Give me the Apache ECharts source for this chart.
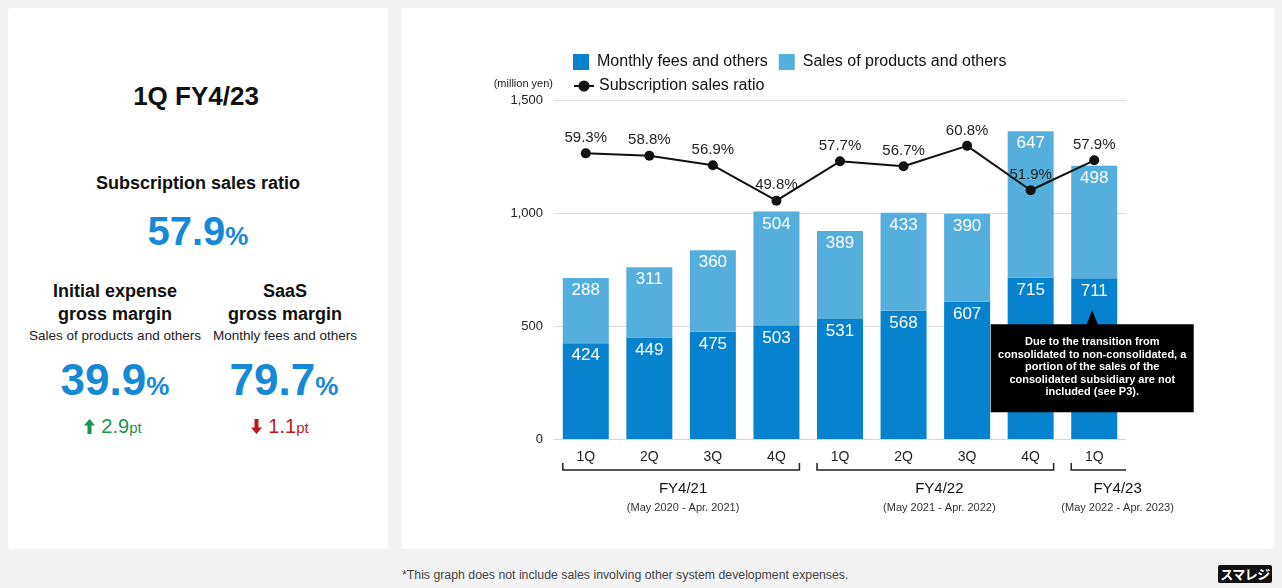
<!DOCTYPE html>
<html>
<head>
<meta charset="utf-8">
<script src="https://cdn.jsdelivr.net/npm/echarts@6/dist/echarts.min.js"></script>
<style>
  html, body { margin: 0; padding: 0; width: 1282px; height: 588px; overflow: hidden;
    background: #f3f3f3; font-family: "Liberation Sans", Arial, sans-serif; color: #111; }
  .panel { position: absolute; background: #fff; border-radius: 3px; }
  .t { position: absolute; width: 300px; text-align: center; white-space: nowrap; }
  .b { font-weight: bold; }
  .blue { color: #1689d6; font-weight: bold; }
  #chart { position: absolute; left: 0; top: 0; width: 1282px; height: 588px; }
  .logo { position: absolute; left: 1218px; top: 565px; width: 54px; height: 18px; background: #111;
    border-radius: 2px; color: #fff; font-family: "Noto Sans CJK JP", sans-serif; font-weight: bold;
    font-size: 13px; line-height: 18px; text-align: center; letter-spacing: -0.5px; }
</style>
</head>
<body>
<div class="panel" style="left:8px;top:8px;width:380px;height:541px"></div>
<div class="panel" style="left:402px;top:8px;width:872px;height:541px"></div>

<!-- summary panel -->
<div class="t b" style="left:46px;top:80px;font-size:26px;line-height:32px">1Q FY4/23</div>
<div class="t b" style="left:48px;top:171px;font-size:18px;line-height:24px">Subscription sales ratio</div>
<div class="t blue" style="left:48px;top:209px;line-height:44px"><span style="font-size:40px">57.9</span><span style="font-size:26px">%</span></div>

<div class="t b" style="left:-35px;top:280px;font-size:18px;line-height:23px">Initial expense<br>gross margin</div>
<div class="t" style="left:-35px;top:328px;font-size:13.5px;line-height:16px;color:#222">Sales of products and others</div>
<div class="t blue" style="left:-35px;top:357px;line-height:46px"><span style="font-size:44px">39.9</span><span style="font-size:26px">%</span></div>
<div class="t" style="left:-37px;top:414px;line-height:24px;color:#179553">
  <svg width="11" height="15" viewBox="0 0 11 15" style="vertical-align:-1px;margin-right:6px"><path d="M5.5 0 L11 6.5 L7.5 6.5 L7.5 15 L3.5 15 L3.5 6.5 L0 6.5 Z" fill="#179553"/></svg><span style="font-size:20px">2.9</span><span style="font-size:15px">pt</span>
</div>

<div class="t b" style="left:135px;top:280px;font-size:18px;line-height:23px">SaaS<br>gross margin</div>
<div class="t" style="left:135px;top:328px;font-size:13.5px;line-height:16px;color:#222">Monthly fees and others</div>
<div class="t blue" style="left:134px;top:357px;line-height:46px"><span style="font-size:44px">79.7</span><span style="font-size:26px">%</span></div>
<div class="t" style="left:130px;top:414px;line-height:24px;color:#c4161c">
  <svg width="11" height="15" viewBox="0 0 11 15" style="vertical-align:-1px;margin-right:6px"><path d="M5.5 15 L11 8.5 L7.5 8.5 L7.5 0 L3.5 0 L3.5 8.5 L0 8.5 Z" fill="#c4161c"/></svg><span style="font-size:20px">1.1</span><span style="font-size:15px">pt</span>
</div>

<div style="position:absolute;left:402px;top:567px;font-size:12.3px;line-height:16px;color:#444;white-space:nowrap">*This graph does not include sales involving other system development expenses.</div>
<div class="logo">スマレジ</div>

<div id="chart"></div>

<script>
// Quarterly sales (million yen) and subscription sales ratio (%)
const quarters = ['1Q', '2Q', '3Q', '4Q', '1Q', '2Q', '3Q', '4Q', '1Q'];
const monthlyFees = [424, 449, 475, 503, 531, 568, 607, 715, 711];
const productSales = [288, 311, 360, 504, 389, 433, 390, 647, 498];
const subscriptionRatio = [59.3, 58.8, 56.9, 49.8, 57.7, 56.7, 60.8, 51.9, 57.9];
const yTicks = [0, 500, 1000, 1500];

// Fiscal year groups under the quarter labels
const fiscalYears = ['FY4/21', 'FY4/22', 'FY4/23'];
const fiscalPeriods = ['(May 2020 - Apr. 2021)', '(May 2021 - Apr. 2022)', '(May 2022 - Apr. 2023)'];
const fiscalFirst = [0, 4, 8];
const fiscalLast = [3, 7, 8];

const noteText = 'Due to the transition from\nconsolidated to non-consolidated, a\nportion of the sales of the\nconsolidated subsidiary are not\nincluded (see P3).';

const FONT = '"Liberation Sans", Arial, sans-serif';
const DARK_BLUE = '#0782cf';
const LIGHT_BLUE = '#55afdc';
const BAR_WIDTH = 46;

const chart = echarts.init(document.getElementById('chart'), null, { renderer: 'canvas' });

const option = {
  animation: false,
  backgroundColor: 'transparent',
  textStyle: { fontFamily: FONT },
  grid: { left: 554, right: 156, top: 100, bottom: 149, containLabel: false },
  legend: [
    {
      data: ['Monthly fees and others', 'Sales of products and others'],
      left: 573, top: 54, padding: 0, icon: 'rect', itemWidth: 16, itemHeight: 16, itemGap: 11,
      textStyle: { fontSize: 16, color: '#111', fontFamily: FONT, padding: [0, 0, 0, 3] }
    },
    {
      data: ['Subscription sales ratio'],
      left: 573, top: 78, padding: 0, itemWidth: 20, itemHeight: 14, itemGap: 10,
      textStyle: { fontSize: 16, color: '#111', fontFamily: FONT }
    }
  ],
  xAxis: {
    type: 'category',
    data: quarters,
    axisLine: { show: true, lineStyle: { color: '#d6d6d6', width: 1 } },
    axisTick: { show: false },
    axisLabel: { fontSize: 14, color: '#222', margin: 11, fontFamily: FONT }
  },
  yAxis: [
    {
      type: 'value',
      min: yTicks[0], max: yTicks[yTicks.length - 1], interval: yTicks[1] - yTicks[0],
      name: '(million yen)',
      nameLocation: 'end',
      nameGap: 11,
      nameTextStyle: { fontSize: 11, color: '#222', align: 'right', fontFamily: FONT, padding: [0, 1, 0, 0] },
      axisLine: { show: false },
      axisTick: { show: false },
      axisLabel: {
        fontSize: 13, color: '#222', margin: 11, fontFamily: FONT,
        formatter: v => v.toLocaleString('en-US')
      },
      splitLine: { lineStyle: { color: '#dcdcdc', width: 1 } }
    },
    { type: 'value', min: 2, max: 70, show: false, splitLine: { show: false } }
  ],
  series: [
    {
      name: 'Monthly fees and others', type: 'bar', stack: 'sales', barWidth: BAR_WIDTH,
      data: monthlyFees,
      itemStyle: { color: DARK_BLUE },
      label: { show: true, position: 'insideTop', distance: 4, color: '#fff', fontSize: 17, fontFamily: FONT }
    },
    {
      name: 'Sales of products and others', type: 'bar', stack: 'sales', barWidth: BAR_WIDTH,
      data: productSales,
      itemStyle: { color: LIGHT_BLUE },
      label: { show: true, position: 'insideTop', distance: 4, color: '#fff', fontSize: 17, fontFamily: FONT }
    },
    {
      name: 'Subscription sales ratio', type: 'line', yAxisIndex: 1,
      data: subscriptionRatio,
      symbol: 'circle', symbolSize: 10,
      lineStyle: { color: '#111', width: 2 },
      itemStyle: { color: '#111' },
      label: { show: true, position: 'top', distance: 3, color: '#222', fontSize: 15, fontFamily: FONT, formatter: p => p.value + '%' },
      z: 5
    }
  ]
};

chart.setOption(option);

// Fiscal-year brackets, their labels and the note callout, placed from the axis scales
function drawAnnotations() {
  const px = i => chart.convertToPixel({ xAxisIndex: 0 }, i);
  const py = v => chart.convertToPixel({ yAxisIndex: 0 }, v);
  const band = px(1) - px(0);
  const base = py(0);
  const gridRight = px(quarters.length - 1) + band / 2;
  const half = BAR_WIDTH / 2;
  const labelShift = [2, 4, 19];
  const elements = [];

  fiscalYears.forEach((fy, g) => {
    const left = px(fiscalFirst[g]) - half;
    const open = fiscalLast[g] === quarters.length - 1;
    const right = open ? gridRight : px(fiscalLast[g]) + half;
    const yLine = base + 31;
    const pts = [[left, yLine - 7], [left, yLine], [right, yLine]];
    if (!open) pts.push([right, yLine - 7]);
    elements.push({
      type: 'polyline', shape: { points: pts },
      style: { stroke: '#222', lineWidth: 1.5, fill: null }, silent: true
    });
    const cx = (left + right) / 2 + labelShift[g];
    elements.push({
      type: 'text', style: { text: fy, x: cx, y: base + 50, textAlign: 'center', textVerticalAlign: 'middle',
        font: '15px ' + FONT, fill: '#111' }, silent: true
    });
    elements.push({
      type: 'text', style: { text: fiscalPeriods[g], x: cx, y: base + 68.5, textAlign: 'center', textVerticalAlign: 'middle',
        font: '11px ' + FONT, fill: '#333' }, silent: true
    });
  });

  // Callout pointing into the latest quarter's bar
  const noteIdx = quarters.length - 1;
  const tipX = px(noteIdx) - 2;
  const tipY = py(570);
  const boxW = 203, boxH = 88, boxTop = tipY + 14;
  elements.push({
    type: 'polygon', z: 100,
    shape: { points: [[tipX, tipY], [tipX + 6, boxTop + 1], [tipX - 6, boxTop + 1]] },
    style: { fill: '#000' }, silent: true
  });
  elements.push({
    type: 'rect', z: 100,
    shape: { x: tipX - boxW / 2, y: boxTop, width: boxW, height: boxH },
    style: { fill: '#000' }, silent: true
  });
  elements.push({
    type: 'text', z: 101,
    style: { text: noteText, x: tipX, y: boxTop + boxH / 2 - 1, textAlign: 'center', textVerticalAlign: 'middle',
      font: 'bold 11px ' + FONT, lineHeight: 12.4, fill: '#fff' }, silent: true
  });

  chart.setOption({ graphic: { elements: elements } });
}

drawAnnotations();
</script>
</body>
</html>
